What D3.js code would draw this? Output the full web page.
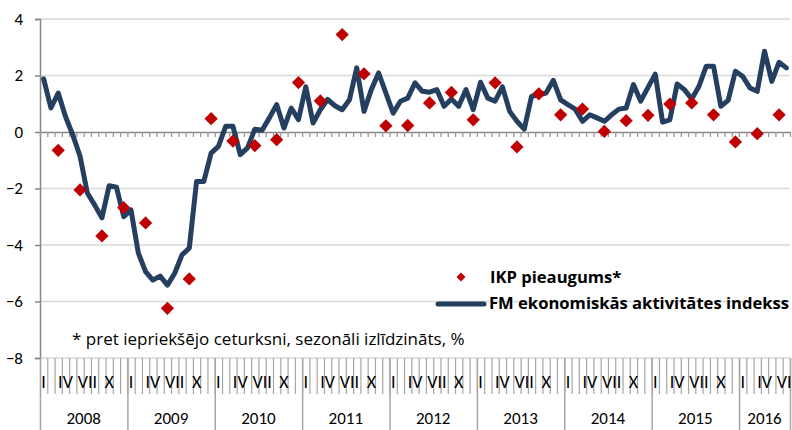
<!DOCTYPE html>
<html>
<head>
<meta charset="utf-8">
<script src="https://cdn.jsdelivr.net/npm/d3@7"></script>
<style>
  body { margin: 0; background: #fff; }
  svg { display: block; font-family: Calibri, Carlito, Lato, sans-serif; }
</style>
</head>
<body>
<svg id="chart" width="792" height="430"></svg>
<script>
// monthly data Jan 2008 .. Jul 2016
const years = ["2008", "2009", "2010", "2011", "2012", "2013", "2014", "2015", "2016"];
const monthsInYear = [12, 12, 12, 12, 12, 12, 12, 12, 7];
const monthLabels = ["I", "", "", "IV", "", "", "VII", "", "", "X", "", ""];
const yTicks = [4, 2, 0, -2, -4, -6, -8];

// FM ekonomiskās aktivitātes indekss (monthly)
const fmIndex = [
  1.88, 0.85, 1.38, 0.55, -0.1, -0.86, -2.16, -2.58, -3.04, -1.9, -1.95, -3.0,
  -2.76, -4.28, -4.94, -5.24, -5.1, -5.42, -5.0, -4.35, -4.11, -1.75, -1.75, -0.75,
  -0.51, 0.2, 0.2, -0.8, -0.56, 0.1, 0.06, 0.5, 0.97, 0.14, 0.85, 0.44,
  1.6, 0.32, 0.79, 1.15, 0.93, 0.79, 1.14, 2.27, 0.73, 1.5, 2.09, 1.38,
  0.67, 1.09, 1.2, 1.74, 1.44, 1.41, 1.5, 0.91, 1.17, 0.91, 1.5, 0.79,
  1.76, 1.2, 1.09, 1.6, 0.73, 0.38, 0.1, 1.26, 1.32, 1.38, 1.83, 1.14,
  0.97, 0.81, 0.38, 0.61, 0.5, 0.38, 0.61, 0.81, 0.85, 1.68, 1.09, 1.58,
  2.05, 0.35, 0.43, 1.7, 1.5, 1.17, 1.62, 2.33, 2.33, 0.91, 1.12, 2.15,
  1.97, 1.56, 1.44, 2.86, 1.79, 2.47, 2.27
];

// IKP pieaugums* (quarterly, shown at the last month of each quarter)
const ikp = [
  -0.65, -2.05, -3.68, -2.68,
  -3.22, -6.24, -5.2, 0.47,
  -0.32, -0.48, -0.27, 1.75,
  1.1, 3.45, 2.06, 0.22,
  0.23, 1.03, 1.4, 0.43,
  1.74, -0.53, 1.35, 0.61,
  0.81, 0.02, 0.4, 0.59,
  0.99, 1.03, 0.61, -0.35,
  -0.06, 0.61
];

const nMonths = d3.sum(monthsInYear);
const svg = d3.select("#chart");

const plotLeft = 40, plotRight = 790, plotTop = 19, plotBottom = 358;
const xb = d3.scaleLinear().domain([0, nMonths]).range([plotLeft, plotRight]);
const xc = (i) => xb(i + 0.5);
const y = d3.scaleLinear().domain([-8, 4]).range([plotBottom, plotTop]);

// gridlines
svg.append("g")
  .selectAll("line")
  .data(yTicks.filter((d) => d !== 0))
  .join("line")
  .attr("x1", plotLeft).attr("x2", plotRight)
  .attr("y1", (d) => y(d)).attr("y2", (d) => y(d))
  .attr("stroke", "#d9d9d9")
  .attr("stroke-width", 1.5);

// y axis
const yAxis = svg.append("g")
  .attr("transform", `translate(${plotLeft},0)`)
  .call(d3.axisLeft(y).tickValues(yTicks).tickSize(5).tickPadding(12).tickFormat(d3.format("d")));
yAxis.select(".domain").attr("stroke", "#868686").attr("stroke-width", 1.5);
yAxis.selectAll(".tick line").attr("stroke", "#868686").attr("stroke-width", 1.5);
yAxis.selectAll("text")
  .attr("font-family", "Calibri, Carlito, Lato, sans-serif")
  .attr("font-size", 17).attr("fill", "#000");

// zero axis with tick marks between months
const zeroAxis = svg.append("g")
  .attr("transform", `translate(0,${y(0)})`)
  .call(d3.axisBottom(xb).tickValues(d3.range(0, nMonths + 1)).tickSize(5).tickSizeOuter(0).tickFormat(""));
zeroAxis.select(".domain").attr("stroke", "#868686").attr("stroke-width", 1.5);
zeroAxis.selectAll(".tick line").attr("stroke", "#999").attr("stroke-width", 1.3);

// category area: month separators and year separators
const yearStarts = [];
monthsInYear.reduce((acc, n) => { yearStarts.push(acc); return acc + n; }, 0);
yearStarts.push(nMonths);

const monthSep = svg.append("g")
  .attr("transform", `translate(0,${plotBottom})`)
  .call(d3.axisBottom(xb).tickValues(d3.range(0, nMonths + 1)).tickSize(36).tickSizeOuter(0).tickFormat(""));
monthSep.select(".domain").remove();
monthSep.selectAll(".tick line").attr("stroke", "#a6a6a6").attr("stroke-width", 1.2);

const yearSep = svg.append("g")
  .attr("transform", `translate(0,${plotBottom})`)
  .call(d3.axisBottom(xb).tickValues(yearStarts).tickSize(72).tickSizeOuter(0).tickFormat(""));
yearSep.select(".domain").remove();
yearSep.selectAll(".tick line").attr("stroke", "#a6a6a6").attr("stroke-width", 1.5);

// month labels
const monthData = d3.range(nMonths).map((i) => {
  const yi = yearStarts.findIndex((s, k) => i >= s && i < yearStarts[k + 1]);
  return { i, label: monthLabels[i - yearStarts[yi]] };
}).filter((d) => d.label !== "");

svg.append("g")
  .selectAll("text")
  .data(monthData)
  .join("text")
  .attr("x", (d) => xc(d.i))
  .attr("y", 388)
  .attr("text-anchor", "middle")
  .attr("font-size", 18)
  .attr("fill", "#000")
  .text((d) => d.label);

// year labels
svg.append("g")
  .selectAll("text")
  .data(years)
  .join("text")
  .attr("x", (d, k) => (xb(yearStarts[k]) + xb(yearStarts[k + 1])) / 2)
  .attr("y", 424)
  .attr("text-anchor", "middle")
  .attr("font-size", 17)
  .attr("fill", "#000")
  .text((d) => d);

// FM index line
const line = d3.line()
  .x((d, i) => xc(i))
  .y((d) => y(d));

svg.append("path")
  .datum(fmIndex)
  .attr("d", line)
  .attr("fill", "none")
  .attr("stroke", "#243f60")
  .attr("stroke-width", 5)
  .attr("stroke-linejoin", "round")
  .attr("stroke-linecap", "round");

// IKP diamonds
const diamond = d3.symbol().type(d3.symbolSquare).size(88);
svg.append("g")
  .selectAll("path")
  .data(ikp)
  .join("path")
  .attr("d", diamond)
  .attr("transform", (d, q) => `translate(${xc(q * 3 + 2)},${y(d)}) rotate(45)`)
  .attr("fill", "#c00000");

// legend
const legend = svg.append("g")
  .attr("font-family", "'Open Sans', sans-serif")
  .attr("font-weight", "bold")
  .attr("font-size", 16.6);
legend.append("path")
  .attr("d", d3.symbol().type(d3.symbolSquare).size(40))
  .attr("transform", "translate(461,277) rotate(45)")
  .attr("fill", "#c00000");
legend.append("text")
  .attr("x", 490).attr("y", 283)
  .text("IKP pieaugums*");
legend.append("line")
  .attr("x1", 438).attr("x2", 484)
  .attr("y1", 304).attr("y2", 304)
  .attr("stroke", "#243f60")
  .attr("stroke-width", 5)
  .attr("stroke-linecap", "round");
legend.append("text")
  .attr("x", 489).attr("y", 309)
  .text("FM ekonomiskās aktivitātes indekss");

// footnote
svg.append("text")
  .attr("x", 72).attr("y", 345)
  .attr("font-family", "'Open Sans', sans-serif")
  .attr("font-size", 17)
  .text("* pret iepriekšējo ceturksni, sezonāli izlīdzināts, %");
</script>
</body>
</html>
